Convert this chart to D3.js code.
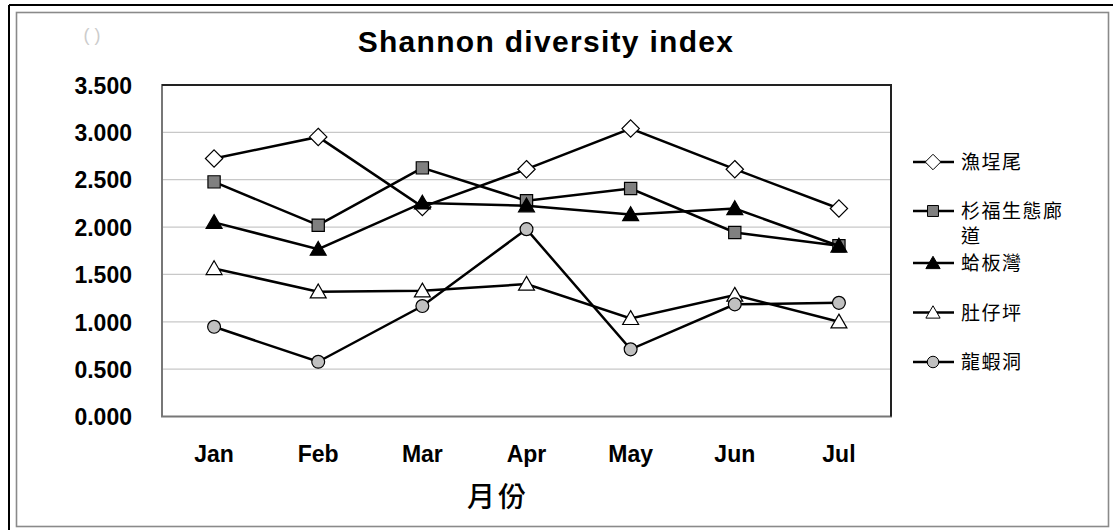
<!DOCTYPE html>
<html>
<head>
    <meta charset="UTF-8">
    <style>
        body { margin: 0; background: #fff; }
        svg { display: block; }
        .tick-label { font-family: Arial, "Liberation Sans", sans-serif; font-weight: bold; font-size: 23px; fill: #000; }
        .legend-label { font-family: "Noto Sans CJK TC", sans-serif; font-size: 19px; fill: #000; letter-spacing: 1.5px; }
        .grid { stroke: #c8c8c8; stroke-width: 1.3; }
        .series-line { fill: none; stroke: #000; stroke-width: 2.5; }
    </style>
</head>
<body>
    <script src="https://cdn.jsdelivr.net/npm/d3@7"></script>
    <script>
var months = ["Jan", "Feb", "Mar", "Apr", "May", "Jun", "Jul"];
var yTicks = [0, 0.5, 1, 1.5, 2, 2.5, 3, 3.5];

var siteNames = ["漁埕尾", "杉福生態廊道", "蛤板灣", "肚仔坪", "龍蝦洞"];
var yuchengwei = [2.724, 2.952, 2.213, 2.611, 3.040, 2.611, 2.196];
var shanfu     = [2.477, 2.020, 2.625, 2.277, 2.407, 1.943, 1.802];
var geban      = [2.050, 1.767, 2.255, 2.225, 2.133, 2.196, 1.800];
var duzaiping  = [1.563, 1.317, 1.327, 1.398, 1.036, 1.282, 1.000];
var longxia    = [0.947, 0.578, 1.166, 1.978, 0.709, 1.184, 1.200];

var width = 1113, height = 530;
var plot = {left: 162, top: 85, right: 891, bottom: 416.5};

var svg = d3.select("body").append("svg").attr("width", width).attr("height", height);

// frames
svg.append("line").attr("x1", 9).attr("y1", 5).attr("x2", width).attr("y2", 5)
    .attr("stroke", "#000").attr("stroke-width", 2);
svg.append("line").attr("x1", 9).attr("y1", 5).attr("x2", 9).attr("y2", height)
    .attr("stroke", "#000").attr("stroke-width", 2);
svg.append("rect").attr("x", 16.5).attr("y", 12.5).attr("width", 1092).attr("height", 514)
    .attr("fill", "#fff").attr("stroke", "#8a8a8a").attr("stroke-width", 1.6);

svg.append("text").attr("x", 92).attr("y", 41).attr("text-anchor", "middle")
    .style("font-family", "Arial, sans-serif").style("font-size", "18px").style("fill", "#cccccc")
    .text("( )");

svg.append("text").attr("x", 546).attr("y", 52).attr("text-anchor", "middle")
    .style("font-family", "Arial, 'Liberation Sans', sans-serif").style("font-weight", "bold")
    .style("font-size", "30px").style("letter-spacing", "1.3px").text("Shannon diversity index");

var x = d3.scaleBand().domain(months).range([plot.left, plot.right]);
var y = d3.scaleLinear().domain([0, 3.5]).range([plot.bottom, plot.top]);
var cx = function(m) { return x(m) + x.bandwidth() / 2; };

// gridlines
svg.append("g").selectAll("line").data(yTicks.filter(function(t) { return t > 0 && t < 3.5; }))
    .enter().append("line").attr("class", "grid")
    .attr("x1", plot.left).attr("x2", plot.right)
    .attr("y1", function(d) { return y(d); }).attr("y2", function(d) { return y(d); });

// plot area border
svg.append("rect").attr("x", plot.left).attr("y", plot.top)
    .attr("width", plot.right - plot.left).attr("height", plot.bottom - plot.top)
    .attr("fill", "none").attr("stroke", "#777").attr("stroke-width", 2);
svg.append("path").attr("d", "M" + plot.left + "," + plot.top + "H" + plot.right + "V" + plot.bottom)
    .attr("fill", "none").attr("stroke", "#222").attr("stroke-width", 2);

// y axis labels
var yAxis = d3.axisLeft(y).tickValues(yTicks).tickFormat(d3.format(".3f")).tickSize(0).tickPadding(30);
var yg = svg.append("g").attr("transform", "translate(" + plot.left + ",0)").call(yAxis);
yg.select(".domain").remove();
yg.selectAll("text").attr("class", "tick-label").attr("dy", "0.36em");

// x axis labels
var xAxis = d3.axisBottom(x).tickSize(0).tickPadding(0);
var xg = svg.append("g").attr("transform", "translate(0," + plot.bottom + ")").call(xAxis);
xg.select(".domain").remove();
xg.selectAll("text").attr("class", "tick-label").attr("y", 45).attr("dy", 0);

svg.append("text").attr("x", 498).attr("y", 507).attr("text-anchor", "middle")
    .style("font-family", "'Noto Sans CJK TC', sans-serif").style("font-size", "28px")
    .style("font-weight", "500").style("letter-spacing", "3px").text("月份");

var diamond = {
    draw: function(ctx, size) {
        var r = Math.sqrt(size / 2);
        ctx.moveTo(0, -r); ctx.lineTo(r, 0); ctx.lineTo(0, r); ctx.lineTo(-r, 0); ctx.closePath();
    }
};

var series = [
    {name: siteNames[0], values: yuchengwei, shape: diamond, fill: "#fff", size: 150},
    {name: siteNames[1], values: shanfu, shape: d3.symbolSquare, fill: "#808080", size: 150},
    {name: siteNames[2], values: geban, shape: d3.symbolTriangle, fill: "#000", size: 110},
    {name: siteNames[3], values: duzaiping, shape: d3.symbolTriangle, fill: "#fff", size: 110},
    {name: siteNames[4], values: longxia, shape: d3.symbolCircle, fill: "#c0c0c0", size: 130}
];

var line = d3.line().x(function(d, i) { return cx(months[i]); }).y(function(d) { return y(d); });

series.forEach(function(s) {
    var g = svg.append("g");
    g.append("path").attr("class", "series-line").attr("d", line(s.values));
    g.selectAll("path.marker").data(s.values).enter().append("path").attr("class", "marker")
        .attr("d", d3.symbol().type(s.shape).size(s.size))
        .attr("transform", function(d, i) {
            var dy = s.shape === d3.symbolTriangle ? 1.5 : 0;
            return "translate(" + cx(months[i]) + "," + (y(d) + dy) + ")";
        })
        .attr("fill", s.fill).attr("stroke", "#000").attr("stroke-width", 1.2);
});

// legend
var legendY = [162, 211, 263, 312.5, 362];
series.forEach(function(s, i) {
    var g = svg.append("g").attr("transform", "translate(0," + legendY[i] + ")");
    g.append("line").attr("x1", 913).attr("x2", 954).attr("y1", 0).attr("y2", 0)
        .attr("stroke", "#000").attr("stroke-width", 2.5);
    g.append("path").attr("d", d3.symbol().type(s.shape).size(s.size * 0.8))
        .attr("transform", "translate(933," + (s.shape === d3.symbolTriangle ? 1.5 : 0) + ")")
        .attr("fill", s.fill).attr("stroke", "#000").attr("stroke-width", 1);
    var t = g.append("text").attr("class", "legend-label").attr("x", 961).attr("y", 7);
    if (s.name.length > 5) {
        t.append("tspan").attr("x", 961).text(s.name.slice(0, 5));
        t.append("tspan").attr("x", 961).attr("dy", 25).text(s.name.slice(5));
    } else {
        t.text(s.name);
    }
});
    </script>
</body>
</html>
